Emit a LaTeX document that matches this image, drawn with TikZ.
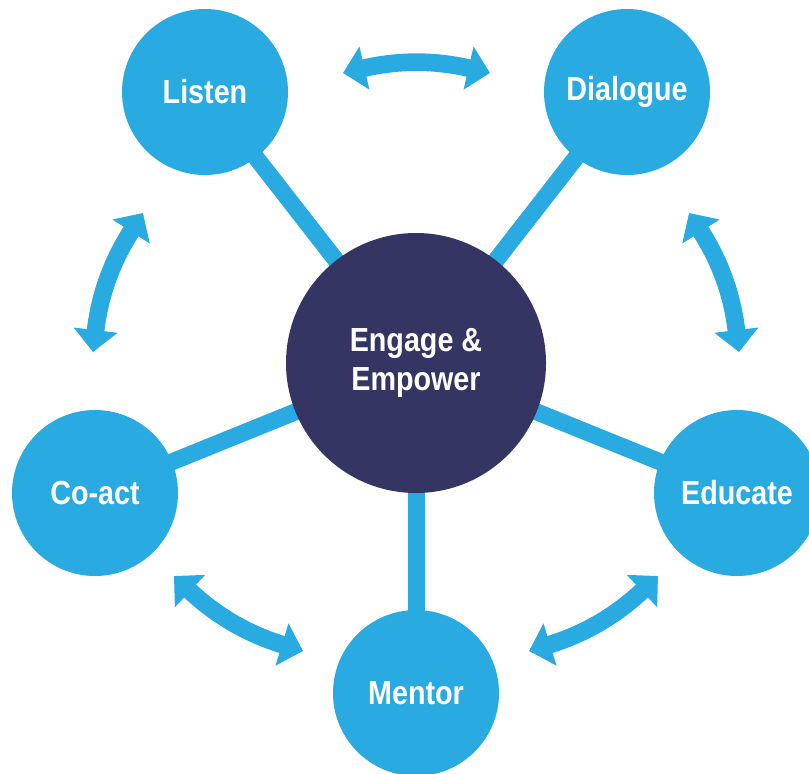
\documentclass[tikz,border=0pt]{standalone}
\usepackage{fontspec}
\setmainfont{Liberation Sans}[FakeStretch=0.86]
\usetikzlibrary{arrows.meta,backgrounds}

\definecolor{skyblue}{RGB}{41,171,226}
\definecolor{navy}{RGB}{53,53,99}

\tikzset{
  leaf/.style = {circle, fill=skyblue, text=white, minimum size=4.98cm, inner sep=0pt,
    font=\fontsize{28.5}{33}\selectfont\bfseries},
  hub/.style = {circle, fill=navy, text=white, minimum size=7.8cm, inner sep=0pt, align=center,
    font=\fontsize{28.5}{33}\selectfont\bfseries},
  spoke/.style = {skyblue, line width=0.51cm},
  swap/.style = {skyblue, line width=0.53cm,
    {Triangle[length=0.66cm, width=1.29cm]}-{Triangle[length=0.66cm, width=1.29cm]}}
}

\begin{document}
\begin{tikzpicture}[x=0.03cm, y=-0.03cm]
  \useasboundingbox (0,0) rectangle (809,773);
  \clip (0,0) rectangle (809,773);

  \node[hub] (engage) at (416,363) {Engage \&\\Empower};
  \node[leaf] (listen) at (205,92) {Listen};
  \node[leaf] (dialogue) at (627,92) {Dialogue};
  \node[leaf] (educate) at (737,493) {Educate};
  \node[leaf] (mentor) at (416,693) {Mentor};
  \node[leaf] (coact) at (95,493) {Co-act};

  \begin{scope}[on background layer]
    \foreach \n in {listen,dialogue,educate,mentor,coact} {
      \draw[spoke] (engage.center) -- (\n.center);
    }
  \end{scope}

  % ends of the curved arrows
  \coordinate (top a) at (343,73);
  \coordinate (top b) at (490,73);
  \coordinate (right a) at (689,213);
  \coordinate (right b) at (739,352);
  \coordinate (low right a) at (658,576);
  \coordinate (low right b) at (529,651);
  \coordinate (low left a) at (303,651);
  \coordinate (low left b) at (174,576);
  \coordinate (left a) at (93,352);
  \coordinate (left b) at (143,213);

  \foreach \s in {top,right,low right,low left,left} {
    \draw[swap] (\s\space a) to[bend left=13] (\s\space b);
  }
\end{tikzpicture}
\end{document}
